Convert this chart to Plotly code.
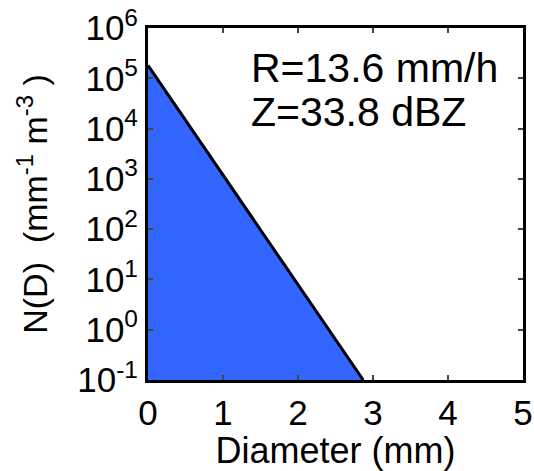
import plotly.graph_objects as go

# Data
diam = [0.0, 2.87]          # mm
nd = [1.8e5, 0.1]           # mm^-1 m^-3
x_ticks = [0, 1, 2, 3, 4, 5]
y_exps = [-1, 0, 1, 2, 3, 4, 5, 6]
y_ticks = [10.0 ** e for e in y_exps]
y_ticktext = ["10<sup>%d</sup>" % e for e in y_exps]
annot_lines = ["R=13.6 mm/h", "Z=33.8 dBZ"]

FONT = "Helvetica, Liberation Sans, Arial, sans-serif"
FS_TICK = 35
FS_XT = 36
FS_YT = 34
FS_ANN = 41

fill_x = [diam[0]] + diam
fill_y = [nd[-1]] + nd

fig = go.Figure()
fig.add_trace(go.Scatter(x=fill_x, y=fill_y, fill="toself", mode="none",
                         fillcolor="#3366FF", hoverinfo="skip", showlegend=False))
fig.add_trace(go.Scatter(x=diam, y=nd, mode="lines",
                         line=dict(color="black", width=3), showlegend=False))

fig.add_annotation(x=0.27, y=0.885, xref="paper", yref="paper", xanchor="left", yanchor="middle",
                   text=annot_lines[0], showarrow=False, font=dict(family=FONT, size=FS_ANN, color="black"))
fig.add_annotation(x=0.27, y=0.762, xref="paper", yref="paper", xanchor="left", yanchor="middle",
                   text=annot_lines[1], showarrow=False, font=dict(family=FONT, size=FS_ANN, color="black"))

fig.update_layout(
    width=534, height=471,
    margin=dict(l=148, r=11, t=28, b=91),
    paper_bgcolor="white", plot_bgcolor="white",
    font=dict(family=FONT, size=FS_TICK, color="black"),
    xaxis=dict(range=[0, 5], tickvals=x_ticks, ticks="inside", ticklen=5, tickwidth=2,
               showline=True, linewidth=3, linecolor="black", mirror="ticks",
               showgrid=False, zeroline=False, tickfont=dict(size=FS_TICK), automargin=False,
               title=dict(text="Diameter (mm)", standoff=5, font=dict(size=FS_XT))),
    yaxis=dict(type="log", range=[-1, 6], tickvals=y_ticks, ticktext=y_ticktext,
               ticks="inside", ticklen=5, tickwidth=2, tickfont=dict(size=FS_TICK),
               showline=True, linewidth=3, linecolor="black", mirror="ticks",
               showgrid=False, zeroline=False, automargin=False,
               title=dict(text="N(D)  (mm<sup>-1</sup> m<sup>-3</sup> )", standoff=20, font=dict(size=FS_YT))),
)

fig.write_html("out.html")
